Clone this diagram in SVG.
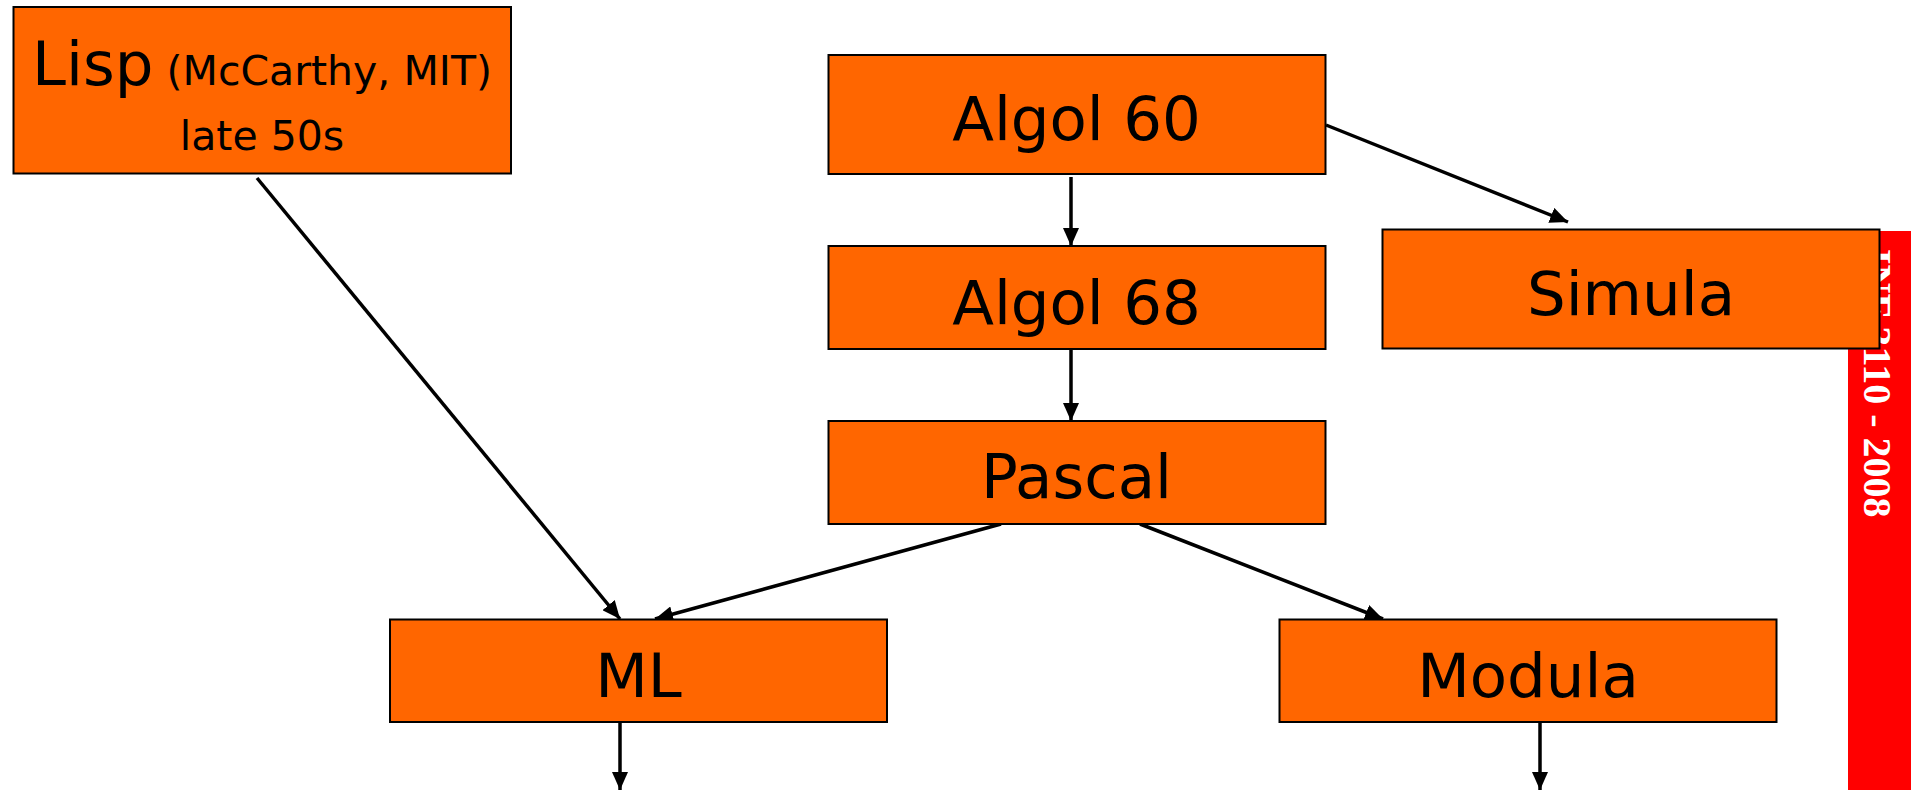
<svg xmlns="http://www.w3.org/2000/svg" width="1911" height="790" viewBox="0 0 1911 790">
<defs>
<style>
.box{fill:#FF6600;stroke:#000;stroke-width:2}
.lbl{font-family:"DejaVu Sans",sans-serif;font-size:61px;fill:#000;text-anchor:middle}
.sm{font-size:41px}
.con{stroke:#000;stroke-width:3.5;fill:none;marker-end:url(#ah)}
.side{font-family:"Liberation Serif","Times New Roman",serif;font-weight:bold;font-size:40px;fill:#fff}
</style>
<marker id="ah" markerUnits="userSpaceOnUse" markerWidth="18" markerHeight="16" refX="18" refY="8" orient="auto" viewBox="0 0 18 16">
<path d="M0,0 L18,8 L0,16 z" fill="#000"/>
</marker>
</defs>
<rect width="1911" height="790" fill="#fff"/>
<g id="sidebar">
<rect x="1848" y="231" width="63" height="559" fill="#FF0000"/>
<text class="side" transform="translate(1864,249) rotate(90)">INF 3110 - 2008</text>
</g>
<g id="connectors">
<line class="con" x1="257" y1="178" x2="620" y2="619"/>
<line class="con" x1="1001" y1="524" x2="655" y2="619"/>
<line class="con" x1="1140" y1="524" x2="1383" y2="619"/>
<line class="con" x1="1326" y1="125" x2="1568" y2="222"/>
<line class="con" x1="1071" y1="177" x2="1071" y2="246"/>
<line class="con" x1="1071" y1="349" x2="1071" y2="421"/>
<line class="con" x1="620" y1="722" x2="620" y2="790"/>
<line class="con" x1="1540" y1="722" x2="1540" y2="790"/>
</g>
<g id="lisp">
<rect class="box" x="13.5" y="7" width="497.5" height="166.5"/>
<text class="lbl" x="262" y="85">Lisp<tspan class="sm"> (McCarthy, MIT)</tspan></text>
<text class="lbl sm" x="262" y="150">late 50s</text>
</g>
<g id="algol60">
<rect class="box" x="828.5" y="55" width="497" height="119"/>
<text class="lbl" x="1076.5" y="140">Algol 60</text>
</g>
<g id="algol68">
<rect class="box" x="828.5" y="246" width="497" height="103"/>
<text class="lbl" x="1076.5" y="324">Algol 68</text>
</g>
<g id="pascal">
<rect class="box" x="828.5" y="421" width="497" height="103"/>
<text class="lbl" x="1076.5" y="498">Pascal</text>
</g>
<g id="simula">
<rect class="box" x="1382.5" y="229.5" width="497" height="119"/>
<text class="lbl" x="1631" y="315">Simula</text>
</g>
<g id="ml">
<rect class="box" x="390" y="619.5" width="497" height="102.5"/>
<text class="lbl" x="638.5" y="697">ML</text>
</g>
<g id="modula">
<rect class="box" x="1279.5" y="619.5" width="497" height="102.5"/>
<text class="lbl" x="1528" y="697">Modula</text>
</g>
</svg>
